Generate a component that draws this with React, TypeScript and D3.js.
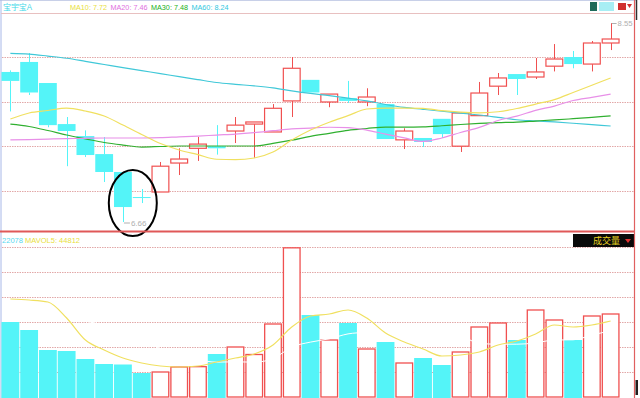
import React from "react";
import * as d3 from "d3";

// ---- data ----
const candleOpen = [8.085, 8.18, 7.98, 7.59, 7.476, 7.305, 7.135, 6.897, 6.945, 7.22, 7.36, 7.38, 7.524, 7.59, 7.515, 7.81, 8.01, 7.80, 7.838, 7.80, 7.78, 7.44, 7.458, 7.64, 7.38, 7.67, 7.95, 8.065, 8.037, 8.14, 8.227, 8.16, 8.36];
const candleHigh = [8.10, 8.265, 7.98, 7.657, 7.53, 7.467, 7.135, 6.973, 7.23, 7.36, 7.467, 7.58, 7.657, 7.61, 7.78, 8.227, 8.01, 7.875, 8.00, 7.93, 7.78, 7.55, 7.458, 7.64, 7.70, 7.99, 8.075, 8.065, 8.218, 8.35, 8.284, 8.379, 8.55];
const candleLow = [7.71, 7.866, 7.56, 7.19, 7.277, 7.04, 6.66, 6.84, 6.945, 7.106, 7.24, 7.30, 7.41, 7.27, 7.515, 7.657, 7.89, 7.75, 7.79, 7.76, 7.448, 7.353, 7.372, 7.458, 7.325, 7.67, 7.866, 7.866, 8.018, 8.09, 8.12, 8.09, 8.293];
const candleClose = [8.00, 7.89, 7.58, 7.524, 7.296, 7.135, 6.802, 6.888, 7.19, 7.258, 7.40, 7.36, 7.58, 7.61, 7.74, 8.12, 7.89, 7.875, 7.81, 7.847, 7.448, 7.524, 7.42, 7.495, 7.695, 7.885, 8.028, 8.018, 8.085, 8.208, 8.16, 8.36, 8.398];

const ma10 = [7.638, 7.695, 7.719, 7.742, 7.714, 7.667, 7.581, 7.491, 7.405, 7.344, 7.30, 7.256, 7.253, 7.268, 7.325, 7.438, 7.533, 7.607, 7.67, 7.733, 7.742, 7.742, 7.739, 7.717, 7.703, 7.697, 7.707, 7.738, 7.78, 7.822, 7.89, 7.959, 8.028];
const ma20 = [7.44, 7.443, 7.448, 7.451, 7.455, 7.458, 7.458, 7.458, 7.461, 7.469, 7.476, 7.486, 7.495, 7.509, 7.527, 7.545, 7.552, 7.56, 7.557, 7.533, 7.495, 7.459, 7.425, 7.458, 7.51, 7.559, 7.624, 7.666, 7.72, 7.761, 7.814, 7.844, 7.875];
const ma30 = [7.589, 7.567, 7.529, 7.486, 7.45, 7.415, 7.391, 7.372, 7.377, 7.382, 7.382, 7.382, 7.382, 7.382, 7.407, 7.437, 7.474, 7.502, 7.531, 7.548, 7.562, 7.562, 7.564, 7.574, 7.586, 7.596, 7.603, 7.609, 7.619, 7.629, 7.641, 7.654, 7.667];
const ma60 = [8.262, 8.255, 8.236, 8.215, 8.186, 8.156, 8.126, 8.097, 8.07, 8.04, 8.012, 7.985, 7.968, 7.953, 7.934, 7.906, 7.881, 7.86, 7.836, 7.81, 7.776, 7.748, 7.73, 7.712, 7.694, 7.676, 7.654, 7.631, 7.62, 7.61, 7.598, 7.585, 7.572];

const volume = [45000, 40200, 28200, 27600, 22800, 19800, 19500, 14400, 15000, 18000, 18200, 25800, 30000, 25500, 43800, 89500, 49200, 34200, 44400, 28800, 33000, 20400, 23400, 19200, 27000, 42000, 44400, 34200, 52200, 46200, 34200, 48600, 49800];
const mavol5 = [58800, 58200, 57000, 47400, 34200, 28200, 23400, 20400, 18600, 18000, 18600, 21000, 23400, 25800, 31200, 42000, 48600, 49800, 52200, 47400, 38400, 33000, 28800, 24600, 25200, 27000, 31200, 33600, 37800, 43200, 42000, 43200, 45600];
const mavol10 = [54000, 51000, 48500, 46500, 45500, 43000, 39000, 34000, 29000, 25050, 22370, 20930, 21110, 20900, 23000, 29970, 32940, 34920, 37860, 38940, 40420, 39880, 39220, 38590, 36910, 32160, 31680, 31680, 32460, 34200, 34320, 37140, 39780];

const priceGrid = [8.227, 7.80, 7.382, 6.954];
const volGrid = [15000, 30000, 45000, 60000, 75000, 90000];

const titleText = "宝宇宝A";
const maLegend = [
  { label: "MA10: 7.72", color: "#e8e040" },
  { label: "MA20: 7.46", color: "#e070e0" },
  { label: "MA30: 7.48", color: "#20b020" },
  { label: "MA60: 8.24", color: "#30c8e0" },
];
const volLegendValue = "22078";
const volLegendMa = "MAVOL5: 44812";
const volPanelName = "成交量";
const highLabel = "8.55";
const lowLabel = "6.66";

const W = 640;
const H = 398;
const CYAN = "#54f4f8";
const RED = "#f05050";
const GRID = "#e2a8a8";
const FONT = "'Liberation Sans', 'DejaVu Sans', 'Noto Sans CJK SC', sans-serif";

export default function App() {
  const idx = candleOpen.map((_, i) => i);
  const x = d3.scaleBand<number>().domain(idx).range([1, 620]).paddingInner(0.05).paddingOuter(0.025);
  const bw = x.bandwidth();
  const cx = (i: number) => (x(i) as number) + bw / 2;
  const y = d3.scaleLinear().domain([6.66, 8.55]).range([222, 23]);
  const yv = d3.scaleLinear().domain([0, 90000]).range([397, 247]);

  const priceLine = (arr: number[]) =>
    d3.line<number>().x((_, i) => cx(i)).y((d) => y(d)).curve(d3.curveMonotoneX)(arr) || "";
  const volLine = (arr: number[]) =>
    d3.line<number>().x((_, i) => cx(i)).y((d) => yv(d)).curve(d3.curveMonotoneX)(arr) || "";

  const iHigh = d3.maxIndex(candleHigh);
  const iLow = d3.minIndex(candleLow);

  return (
    <svg width={W} height={H} style={{ position: "absolute", left: 0, top: 0, background: "#fff" }} fontFamily={FONT}>
      <rect x={0} y={0} width={W} height={H} fill="#fff" />
      {/* borders */}
      <line x1={0} x2={636} y1={0.5} y2={0.5} stroke="#c8d0e8" />
      <line x1={1} x2={1} y1={0} y2={H} stroke="#a8b8e8" />
      <line x1={1} x2={635} y1={13.5} y2={13.5} stroke="#e8c0c0" />

      {/* header */}
      <text x={3} y={10} fontSize={8.5} fill="#40d8e8" textLength={29} lengthAdjust="spacingAndGlyphs">{titleText}</text>
      {maLegend.map((m, i) => (
        <text key={m.label} x={70 + i * 40.5} y={10} fontSize={8} fill={m.color} textLength={37} lengthAdjust="spacingAndGlyphs">{m.label}</text>
      ))}
      <rect x={590} y={2} width={7} height={9} fill="#1e6a5a" />
      <rect x={599} y={2} width={15} height={9} fill="#a8eef4" />
      <rect x={618} y={3} width={8} height={7} fill="#d03030" />
      <path d="M627,4 L632,4 L629.5,8 Z" fill="#d03030" />

      {/* price grid */}
      {priceGrid.map((p) => (
        <line key={p} x1={2} x2={634} y1={Math.round(y(p)) + 0.5} y2={Math.round(y(p)) + 0.5} stroke={GRID} strokeDasharray="1.5,1" />
      ))}

      {/* candles */}
      {idx.map((i) => {
        const o = candleOpen[i], c = candleClose[i], h = candleHigh[i], l = candleLow[i];
        const up = c >= o;
        const top = y(Math.max(o, c));
        const bot = y(Math.min(o, c));
        const xm = Math.round(cx(i)) + 0.5;
        const x0 = (x(i) as number);
        const col = up ? RED : CYAN;
        const bh = Math.max(bot - top, 1);
        return (
          <g key={i}>
            <line x1={xm} x2={xm} y1={y(h)} y2={top} stroke={col} strokeWidth={1} />
            <line x1={xm} x2={xm} y1={top + bh} y2={y(l)} stroke={col} strokeWidth={1} />
            {up ? (
              <rect x={x0 + 0.5} y={top} width={bw - 1} height={bh} fill="#fff" stroke={col} strokeWidth={1.2} />
            ) : (
              <rect x={x0} y={top} width={bw} height={bh} fill={col} />
            )}
          </g>
        );
      })}

      {/* moving averages */}
      <path d={priceLine(ma60)} fill="none" stroke="#40c8d8" strokeWidth={1.2} />
      <path d={priceLine(ma30)} fill="none" stroke="#30b030" strokeWidth={1.2} />
      <path d={priceLine(ma20)} fill="none" stroke="#e890e8" strokeWidth={1.2} />
      <path d={priceLine(ma10)} fill="none" stroke="#f0e060" strokeWidth={1.2} />

      {/* high / low markers */}
      <line x1={cx(iHigh) + 1} x2={cx(iHigh) + 6} y1={y(candleHigh[iHigh]) + 0.5} y2={y(candleHigh[iHigh]) + 0.5} stroke="#b0b0b0" />
      <text x={cx(iHigh) + 7} y={y(candleHigh[iHigh]) + 3} fontSize={7.5} fill="#b0b0b0" textLength={15} lengthAdjust="spacingAndGlyphs">{highLabel}</text>
      <line x1={cx(iLow) + 1} x2={cx(iLow) + 7} y1={y(candleLow[iLow]) + 1} y2={y(candleLow[iLow]) + 1} stroke="#b0b0b0" />
      <text x={cx(iLow) + 8} y={y(candleLow[iLow]) + 4} fontSize={8} fill="#b0b0b0">{lowLabel}</text>

      {/* highlight ellipse */}
      <ellipse cx={(cx(iLow) + cx(iLow + 1)) / 2 + 0.5} cy={203} rx={24} ry={33} fill="none" stroke="#000" strokeWidth={2} />

      {/* volume panel */}
      <line x1={0} x2={635} y1={231.5} y2={231.5} stroke="#e05858" strokeWidth={2} />
      <text x={2} y={243} fontSize={8} fill="#58d8f0" textLength={21} lengthAdjust="spacingAndGlyphs">{volLegendValue}</text>
      <text x={25} y={243} fontSize={8} fill="#e8e040" textLength={55} lengthAdjust="spacingAndGlyphs">{volLegendMa}</text>
      {volGrid.map((v) => (
        <line key={v} x1={2} x2={634} y1={Math.round(yv(v)) + 0.5} y2={Math.round(yv(v)) + 0.5} stroke={GRID} strokeDasharray="1.5,1" />
      ))}
      <rect x={573} y={234} width={62} height={13} fill="#0a0a0a" />
      <text x={593} y={244} fontSize={9} fill="#e8d020" fontFamily="'Noto Sans CJK SC', sans-serif">{volPanelName}</text>
      <path d="M625,239 L631,239 L628,243 Z" fill="#e03030" />

      {idx.map((i) => {
        const up = candleClose[i] >= candleOpen[i];
        const x0 = x(i) as number;
        const t = yv(volume[i]);
        return up ? (
          <rect key={i} x={x0 + 0.6} y={t} width={bw - 1.2} height={yv(0) - t} fill="#fff" stroke={RED} strokeWidth={1.3} />
        ) : (
          <rect key={i} x={x0} y={t} width={bw} height={yv(0) - t + 1} fill={CYAN} />
        );
      })}
      <path d={volLine(mavol10)} fill="none" stroke="#ffffff" strokeWidth={1} />
      <path d={volLine(mavol5)} fill="none" stroke="#f0e060" strokeWidth={1.2} />

      {/* right border */}
      <line x1={634.5} x2={634.5} y1={0} y2={H} stroke="#e06060" strokeWidth={1.2} />
      <line x1={636.5} x2={636.5} y1={0} y2={20} stroke="#303030" strokeWidth={1.5} />
      <rect x={635.5} y={380} width={2.5} height={15} fill="#202020" />
    </svg>
  );
}
